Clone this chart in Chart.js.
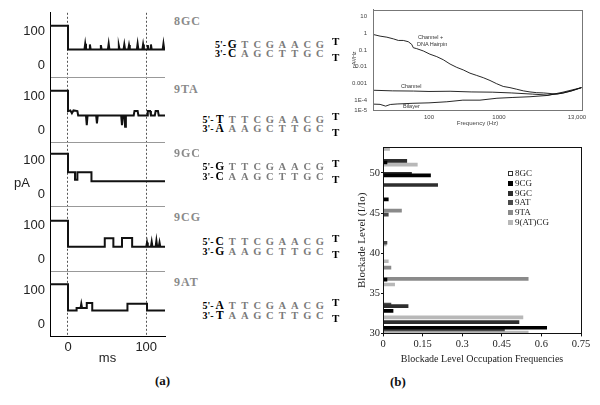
<!DOCTYPE html>
<html>
<head>
<meta charset="utf-8">
<script src="https://cdn.jsdelivr.net/npm/chart.js@4.4.0/dist/chart.umd.min.js"></script>
<style>
body { margin: 0; background: #fff; }
#wrap { position: relative; width: 600px; height: 405px; overflow: hidden; font-family: "Liberation Serif", serif; }
canvas { position: absolute; }
.t { position: absolute; white-space: nowrap; transform: translateY(-50%); }
.name { font: bold 12px "Liberation Serif", serif; color: #8a8a8a; left: 174px; letter-spacing: 1px; }
.seq { right: 274px; font: bold 10.5px "Liberation Serif", serif; }
.seq .p { color: #000; font-size: 10px; }
.seq .b { display: inline-block; width: 12.5px; text-align: center; color: #7a7a7a; }
.seq .b0 { color: #000; font-size: 11.5px; }
.loop { left: 332px; font: bold 11px "Liberation Serif", serif; color: #000; }
.psdlab { font: 5.5px "Liberation Sans", sans-serif; color: #333; }
.leg { left: 508px; font: 9px "Liberation Serif", serif; color: #222; }
.leg i { display: inline-block; width: 5px; height: 5px; margin-right: 2px; vertical-align: 0px; box-sizing: border-box; }
.panel { font: bold 13px "Liberation Serif", serif; color: #111; }
</style>
</head>
<body>
<div id="wrap">
  <canvas id="traces" width="170" height="368" style="left:0;top:0"></canvas>
  <canvas id="psd" width="270" height="130" style="left:330px;top:0"></canvas>
  <canvas id="levels" width="270" height="230" style="left:330px;top:140px"></canvas>
  <div class="t" style="left:14px;top:182px;font:13px 'Liberation Sans',sans-serif;color:#222">pA</div>
  <div class="t panel" style="left:155px;top:381px">(a)</div>
  <div class="t panel" style="left:390px;top:382px">(b)</div>
  <div class="t psdlab" style="left:418px;top:37px">Channel +</div>
  <div class="t psdlab" style="left:417px;top:44px">DNA Hairpin</div>
  <div class="t psdlab" style="left:401px;top:86px">Channel</div>
  <div class="t psdlab" style="left:403px;top:106px">Bilayer</div>
</div>
<script>
// (a) current traces, one per hairpin
var hairpins = ["8GC", "9TA", "9GC", "9CG", "9AT"];
var stem5 = ["GTCGAACG", "TTTCGAACG", "GTTCGAACG", "CTTCGAACG", "ATTCGAACG"];
var stem3 = ["CAGCTTGC", "AAAGCTTGC", "CAAGCTTGC", "GAAGCTTGC", "TAAGCTTGC"];

var t1 = [-23, 0, 0, 21, 22, 23, 27, 28, 29, 41, 42, 43, 51, 52, 53, 64, 65, 66, 71, 72, 73, 77, 78, 79, 88, 89, 90, 95, 96, 97, 101, 102, 103, 105, 106, 107, 121, 122, 123, 124];
var i1 = [117, 117, 47, 47, 64, 47, 47, 62, 47, 47, 60, 47, 47, 64, 47, 47, 58, 47, 47, 62, 47, 47, 60, 47, 47, 64, 47, 47, 62, 47, 47, 60, 47, 47, 62, 47, 47, 64, 47, 47];
var t2 = [-23, 0, 0, 3, 5, 7, 12, 13, 23, 24, 25, 36, 37, 38, 68, 69, 70, 72, 73, 74, 84, 85, 89, 90, 101, 102, 105, 106, 111, 112, 115, 116, 124];
var i2 = [116, 116, 56, 58, 50, 58, 56, 43, 43, 15, 43, 43, 20, 43, 43, 15, 43, 43, 10, 43, 43, 56, 56, 43, 43, 56, 56, 43, 43, 56, 56, 43, 43];
var t3 = [-23, 0, 0, 9, 9, 12, 12, 30, 30, 124];
var i3 = [121, 121, 66, 66, 44, 44, 66, 66, 40, 40];
var t4 = [-23, 0, 0, 47, 47, 58, 58, 69, 69, 82, 82, 100, 101, 102, 106, 107, 108, 112, 113, 114, 116, 117, 118, 124];
var i4 = [114, 114, 37, 37, 62, 62, 37, 37, 63, 63, 37, 37, 50, 37, 37, 52, 37, 37, 55, 37, 37, 50, 37, 37];
var t5 = [-23, 0, 0, 11, 11, 16, 17, 18, 24, 24, 31, 31, 76, 76, 101, 101, 124];
var i5 = [117, 117, 40, 40, 47, 47, 60, 47, 47, 62, 62, 40, 40, 60, 60, 40, 40];
var traceT = [t1, t2, t3, t4, t5];
var traceI = [i1, i2, i3, i4, i5];
var msTicks = [0, 100];
var pATicks = [0, 100];

// (b) top: noise power spectra
var hpF = [16, 20, 25, 31, 36.5, 43, 50.6, 56.6, 59.7, 66.7, 83, 103, 129, 160, 200, 249, 309, 385, 480, 597, 744, 926, 1150, 1436, 1790, 2225, 2770, 3460, 4300, 5355, 6670, 8300, 10330, 12880, 15100];
var hpP = [0.84, 0.67, 0.58, 0.46, 0.37, 0.37, 0.31, 0.216, 0.136, 0.12, 0.087, 0.056, 0.040, 0.026, 0.0144, 0.0091, 0.0064, 0.0041, 0.0030, 0.0022, 0.0015, 0.00096, 0.00066, 0.00056, 0.00045, 0.00036, 0.00031, 0.00028, 0.00027, 0.00025, 0.00023, 0.00027, 0.00034, 0.00045, 0.00056];
var chF = [16, 30, 60, 100, 200, 400, 800, 1500, 3000, 5000, 8000, 11000, 15000];
var chP = [3.9e-4, 3.6e-4, 3.5e-4, 3.3e-4, 3.4e-4, 3.1e-4, 3.0e-4, 2.7e-4, 2.3e-4, 2.0e-4, 2.6e-4, 3.6e-4, 5.6e-4];
var blF = [16, 20, 24, 28, 35, 59, 100, 180, 305, 535, 935, 1580, 2770, 4850, 8200, 15100];
var blP = [5.8e-5, 5.6e-5, 4.4e-5, 5.5e-5, 5.9e-5, 6.5e-5, 6.9e-5, 8e-5, 1e-4, 1e-4, 1.3e-4, 1.45e-4, 1.6e-4, 1.9e-4, 3e-4, 5.6e-4];
var freqTicks = [100, 1000, 13000];
var freqLabels = ["100", "1000", "13,000"];
var psdMin = 2.58e-5;
var psdTicks = [psdMin, 0.0001, 0.001, 0.01, 0.1, 1, 10];
var psdLabels = ["1E-5", "1E-4", "0.001", "0.01", "0.1", "1", "10"];

// (b) bottom: blockade level occupation
var levelSeries = ["8GC", "9CG", "9GC", "9AT", "9TA", "9(AT)CG"];
var levelColors = ["#ffffff", "#000000", "#2e2e2e", "#4a4a4a", "#8a8a8a", "#b8b8b8"];
var lv8GC = [], fr8GC = [];
var lv9CG = [51.3, 49.7, 46.7, 36.7, 32.8, 30.7];
var fr9CG = [0.015, 0.18, 0.02, 0.015, 0.038, 0.62];
var lv9GC = [51.5, 49.9, 48.5, 33.4, 31.4];
var fr9GC = [0.09, 0.108, 0.207, 0.095, 0.515];
var lv9AT = [44.8, 41.3, 33.6, 30.5];
var fr9AT = [0.02, 0.015, 0.03, 0.46];
var lv9TA = [45.3, 38.2, 36.8];
var fr9TA = [0.07, 0.03, 0.55];
var lv9ATCG = [53.0, 51.05, 41.1, 39.0, 36.1, 32.0, 30.1];
var fr9ATCG = [0.025, 0.13, 0.012, 0.02, 0.044, 0.53, 0.55];
var levelY = [lv8GC, lv9CG, lv9GC, lv9AT, lv9TA, lv9ATCG];
var levelX = [fr8GC, fr9CG, fr9GC, fr9AT, fr9TA, fr9ATCG];
var levelTicks = [30, 35, 40, 45, 50];
var freqOccTicks = [0, 0.15, 0.3, 0.45, 0.6, 0.75];

// ---- text parts of (a)
var wrap = document.getElementById("wrap");
var nameY = [21, 89, 153, 217, 282];
var seqY = [43.5, 118.5, 166, 241, 305];
function addDiv(cls, html, left, top) {
  var d = document.createElement("div");
  d.className = "t " + cls;
  d.innerHTML = html;
  if (left != null) d.style.left = left + "px";
  d.style.top = top + "px";
  wrap.appendChild(d);
}
function strand(prefix, s) {
  var h = '<span class="p">' + prefix + "</span>";
  for (var j = 0; j < s.length; j++) {
    h += '<span class="b' + (j == 0 ? " b0" : "") + '">' + s[j] + "</span>";
  }
  return h;
}
hairpins.forEach(function (h, k) {
  addDiv("name", h, null, nameY[k]);
  addDiv("seq", strand("5'-", stem5[k]), null, seqY[k]);
  addDiv("seq", strand("3'-", stem3[k]), null, seqY[k] + 9.5);
  addDiv("loop", "T", null, seqY[k] - 3);
  addDiv("loop", "T", null, seqY[k] + 13);
});
levelSeries.forEach(function (s, k) {
  var border = k == 0 ? "border:1px solid #333;" : "";
  addDiv("leg", '<i style="background:' + levelColors[k] + ";" + border + '"></i>' + s, null, 173 + k * 9.8);
});

var frame = {
  id: "frame",
  afterDraw: function (chart, args, opts) {
    var a = chart.chartArea, ctx = chart.ctx;
    ctx.save();
    ctx.strokeStyle = opts.color;
    ctx.lineWidth = 1;
    ctx.strokeRect(Math.round(a.left) + 0.5, Math.round(a.top) + 0.5, Math.round(a.right - a.left), Math.round(a.bottom - a.top));
    ctx.restore();
  }
};
function fixedTicks(list) {
  return function (ax) { ax.ticks = list.map(function (v) { return { value: v }; }); };
}

// ---- trace chart, five stacked y axes
var sans13 = { family: "Liberation Sans", size: 13 };
var traceScales = {
  x: {
    type: "linear", min: -23, max: 124,
    afterBuildTicks: fixedTicks(msTicks),
    afterFit: function (ax) { ax.height = 30; },
    ticks: { font: sans13, color: "#222", padding: 4, maxRotation: 0 },
    grid: { drawTicks: false, color: "#555", lineWidth: 1 },
    border: { color: "#000", dash: [2, 2] },
    title: { display: true, text: "ms", font: sans13, color: "#222", padding: { top: 0, bottom: 0 } }
  }
};
hairpins.forEach(function (h, k) {
  traceScales["p" + k] = {
    type: "linear", position: "left", stack: "traces", stackWeight: 1, weight: 5 - k,
    min: -35, max: 155,
    afterBuildTicks: fixedTicks(pATicks.concat([155])),
    afterFit: function (ax) { ax.width = 50; },
    ticks: { font: sans13, color: "#222", padding: 5, autoSkip: false, callback: function (v) { return v == 155 ? "" : v; } },
    grid: {
      drawTicks: false, lineWidth: 1,
      color: function (c) { return (c.tick && c.tick.value == 155 && k > 0) ? "#999" : "rgba(0,0,0,0)"; }
    },
    border: { color: "#000" }
  };
});
new Chart("traces", {
  type: "line",
  data: {
    datasets: hairpins.map(function (h, k) {
      return {
        label: h, yAxisID: "p" + k,
        data: traceT[k].map(function (t, j) { return { x: t, y: traceI[k][j] }; }),
        borderColor: "#111", borderWidth: 2, pointRadius: 0, tension: 0, fill: false
      };
    })
  },
  options: {
    responsive: false, animation: false,
    layout: { padding: { top: 10, right: 5, left: 0, bottom: 2 } },
    plugins: { legend: { display: false }, tooltip: { enabled: false } },
    scales: traceScales
  }
});

// ---- spectra
var sans6 = { family: "Liberation Sans", size: 6 };
function pts(f, p) { return f.map(function (v, j) { return { x: v, y: p[j] }; }); }
new Chart("psd", {
  type: "line",
  data: {
    datasets: [
      { label: "Channel + DNA Hairpin", data: pts(hpF, hpP) },
      { label: "Channel", data: pts(chF, chP) },
      { label: "Bilayer", data: pts(blF, blP) }
    ].map(function (d) {
      d.borderColor = "#111"; d.borderWidth = 0.9; d.pointRadius = 0; d.tension = 0;
      return d;
    })
  },
  options: {
    responsive: false, animation: false,
    layout: { padding: { top: 8, right: 18, left: 0, bottom: 0 } },
    plugins: { legend: { display: false }, tooltip: { enabled: false }, frame: { color: "#777" } },
    scales: {
      x: {
        type: "logarithmic", min: 15.85, max: 15350,
        afterBuildTicks: fixedTicks(freqTicks),
        afterFit: function (ax) { ax.height = 20; },
        ticks: { font: sans6, color: "#444", padding: 4, maxRotation: 0, autoSkip: false,
          callback: function (v, i) { return freqLabels[i]; } },
        grid: { display: false, drawTicks: false },
        border: { color: "#777" },
        title: { display: true, text: "Frequency (Hz)", font: sans6, color: "#444", padding: { top: 0, bottom: 3 } }
      },
      y: {
        type: "logarithmic", min: psdMin, max: 25.8,
        afterBuildTicks: fixedTicks(psdTicks),
        afterFit: function (ax) { ax.width = 43; },
        ticks: { font: sans6, color: "#444", padding: 6, autoSkip: false,
          callback: function (v, i) { return psdLabels[i]; } },
        grid: { display: false, drawTicks: false },
        border: { color: "#777" },
        title: { display: true, text: "pA²/Hz", font: { family: "Liberation Sans", size: 5.5 }, color: "#444", padding: { top: 21, bottom: 0 } }
      }
    }
  },
  plugins: [frame]
});

// ---- blockade level bars
var serif10 = { family: "Liberation Serif", size: 10.5 };
new Chart("levels", {
  type: "bar",
  data: {
    datasets: levelSeries.map(function (s, k) {
      return {
        label: s,
        data: levelY[k].map(function (l, j) { return { y: l, x: levelX[k][j] }; }),
        backgroundColor: levelColors[k],
        borderColor: "#333", borderWidth: k == 0 ? 0.5 : 0,
        barThickness: 3, grouped: false
      };
    })
  },
  options: {
    indexAxis: "y",
    responsive: false, animation: false,
    layout: { padding: { top: 7, right: 19, left: 0, bottom: 0 } },
    plugins: { legend: { display: false }, tooltip: { enabled: false }, frame: { color: "#111" } },
    scales: {
      x: {
        type: "linear", min: 0, max: 0.75,
        afterBuildTicks: fixedTicks(freqOccTicks),
        ticks: { font: serif10, color: "#222", padding: 2, maxRotation: 0, autoSkip: false,
          callback: function (v) { return String(v); } },
        grid: { drawOnChartArea: false, tickLength: 3, color: "#111" },
        border: { color: "#111" },
        title: { display: true, text: "Blockade Level Occupation Frequencies", font: { family: "Liberation Serif", size: 10 }, color: "#222", padding: { top: 0, bottom: 5 } }
      },
      y: {
        type: "linear", min: 30, max: 53.2, offset: false,
        afterBuildTicks: fixedTicks(levelTicks),
        afterFit: function (ax) { ax.width = 53; },
        ticks: { font: serif10, color: "#222", padding: 1 },
        grid: { drawOnChartArea: false, offset: false, tickLength: 2, color: "#111" },
        border: { color: "#111" },
        title: { display: true, text: "Blockade Level (I/Io)", font: { family: "Liberation Serif", size: 11 }, color: "#222", padding: { top: 26, bottom: 0 } }
      }
    }
  },
  plugins: [frame]
});
</script>
</body>
</html>
